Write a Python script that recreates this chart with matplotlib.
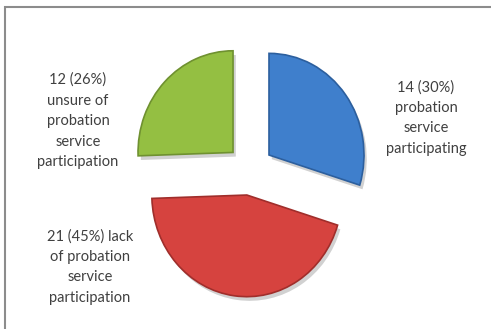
import matplotlib.pyplot as plt
import matplotlib.patheffects as pe
from matplotlib.patches import Rectangle

# slice values, clockwise from 12 o'clock
counts = [14, 21, 12]
colors = ['#3f7fcc', '#d6433f', '#94bf42']
edges = ['#2c5f9e', '#a02e2b', '#6f9130']
labels = ['14 (30%)\nprobation\nservice\nparticipating',
          '21 (45%) lack\nof probation\nservice\nparticipation',
          '12 (26%)\nunsure of\nprobation\nservice\nparticipation']

W, H = 491, 329
SY = 1.07  # pie is drawn a little taller than wide
fig = plt.figure(figsize=(W / 100, H / 100), dpi=100)
ax = fig.add_axes([0, 0, 1, 1])

# explode is in data units here (pie does not scale it by radius)
wedges, _ = ax.pie(counts, colors=colors, startangle=90, counterclock=False,
                   explode=[23.6] * 3, radius=95, center=(250, (H - 170) / SY),
                   frame=True,
                   wedgeprops=dict(linewidth=1.2))
for w, ec in zip(wedges, edges):
    w.set_edgecolor(ec)
    w.set_path_effects([pe.SimplePatchShadow(offset=(2, -3), shadow_rgbFace='#000000', alpha=0.18),
                        pe.Normal()])

ax.set_xlim(0, W)
ax.set_ylim(0, H / SY)
ax.set_aspect('auto')
ax.axis('off')

# chart area border
ax.add_patch(Rectangle((5, -10), W, (H - 7) / SY + 10, fill=False,
                       edgecolor='#8c8c8c', linewidth=1.5))

txt = dict(ha='center', va='center', fontsize=10.5, family='Lato', color='#404040',
           linespacing=1.6)
ax.text(426, (H - 118) / SY, labels[0], **txt)
ax.text(90, (H - 267) / SY, labels[1], **txt)
ax.text(78, (H - 121) / SY, labels[2], **txt)

fig.savefig('out.png', dpi=100)
